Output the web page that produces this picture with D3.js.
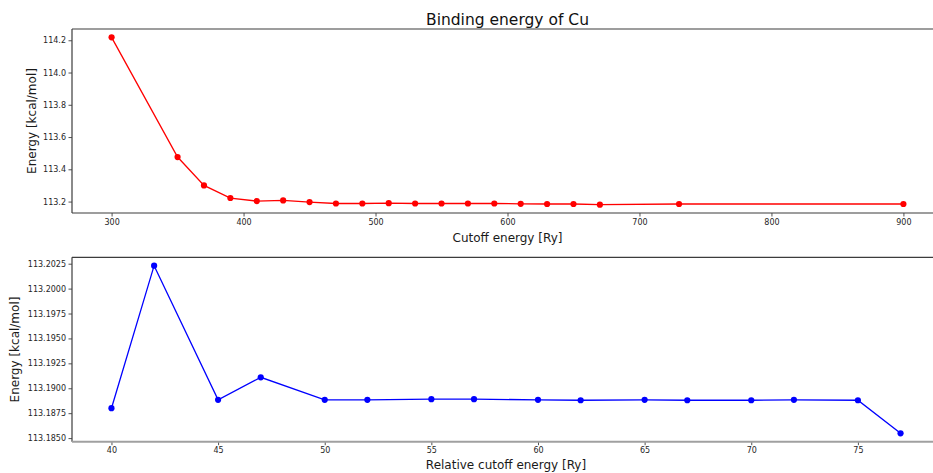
<!DOCTYPE html>
<html>
<head>
<meta charset="utf-8">
<script src="https://cdn.jsdelivr.net/npm/d3@7"></script>
<style>
  body { margin: 0; background: #fff; }
  svg { display: block; font-family: "DejaVu Sans", sans-serif; }
</style>
</head>
<body>
<svg id="chart" width="933" height="473"></svg>
<script>
// ---- data ----
const title = "Binding energy of Cu";
const cutoffX = [300, 350, 370, 390, 410, 430, 450, 470, 490, 510, 530, 550, 570, 590, 610, 630, 650, 670, 730, 900];
const cutoffEnergy = [114.218, 113.476, 113.300, 113.222, 113.203, 113.207, 113.197, 113.188, 113.188, 113.190, 113.188, 113.188, 113.188, 113.188, 113.186, 113.185, 113.185, 113.181, 113.185, 113.185];
const relX = [40, 42, 45, 47, 50, 52, 55, 57, 60, 62, 65, 67, 70, 72, 75, 77];
const relEnergy = [113.1880, 113.2023, 113.18884, 113.1911, 113.18884, 113.18884, 113.18891, 113.18891, 113.18884, 113.18880, 113.18884, 113.18880, 113.18880, 113.18884, 113.18880, 113.18548];
const topXTicks = [300, 400, 500, 600, 700, 800, 900];
const topYTicks = [113.2, 113.4, 113.6, 113.8, 114.0, 114.2];
const botXTicks = [40, 45, 50, 55, 60, 65, 70, 75];
const botYTicks = [113.1850, 113.1875, 113.1900, 113.1925, 113.1950, 113.1975, 113.2000, 113.2025];

const svg = d3.select("#chart");

function margin5(vals) {
  const [a, b] = d3.extent(vals);
  const m = (b - a) * 0.05;
  return [a - m, b + m];
}

function panel(opts) {
  const { xs, ys, left, right, top, bottom, xTicks, yTicks, yFmt, color, xLabel, yLabelX, xLabelY, bottomSpineColor } = opts;
  const x = d3.scaleLinear().domain(margin5(xs)).range([left, right]);
  const y = d3.scaleLinear().domain(margin5(ys)).range([bottom, top]);
  const g = svg.append("g");

  const xa = g.append("g").attr("transform", `translate(0,${bottom})`)
    .call(d3.axisBottom(x).tickValues(xTicks).tickFormat(d3.format("d")).tickSize(3.5).tickPadding(2.5));
  xa.select(".domain").remove();
  xa.selectAll("line").attr("stroke", "#262626").attr("stroke-width", 0.8);
  xa.selectAll("text").attr("font-size", "8px").attr("fill", "#262626").attr("font-family", "DejaVu Sans");

  const ya = g.append("g").attr("transform", `translate(${left},0)`)
    .call(d3.axisLeft(y).tickValues(yTicks).tickFormat(yFmt).tickSize(3.5).tickPadding(2.5));
  ya.select(".domain").remove();
  ya.selectAll("line").attr("stroke", "#262626").attr("stroke-width", 0.8);
  ya.selectAll("text").attr("font-size", "8px").attr("fill", "#262626").attr("font-family", "DejaVu Sans");

  g.append("line").attr("x1", left).attr("x2", right).attr("y1", top).attr("y2", top)
    .attr("stroke", "#3c3c3c").attr("stroke-width", 1.2);
  g.append("line").attr("x1", left).attr("x2", left).attr("y1", top).attr("y2", bottom)
    .attr("stroke", "#3c3c3c").attr("stroke-width", 1.2);
  g.append("line").attr("x1", left).attr("x2", right).attr("y1", bottom).attr("y2", bottom)
    .attr("stroke", bottomSpineColor).attr("stroke-width", bottomSpineColor === "#3c3c3c" ? 1.2 : 2);

  const pts = xs.map((v, i) => [v, ys[i]]);
  g.append("path").datum(pts)
    .attr("fill", "none").attr("stroke", color).attr("stroke-width", 1.3)
    .attr("d", d3.line().x(d => x(d[0])).y(d => y(d[1])));
  g.selectAll("circle.pt").data(pts).enter().append("circle")
    .attr("cx", d => x(d[0])).attr("cy", d => y(d[1])).attr("r", 3.1).attr("fill", color);

  g.append("text").attr("x", (left + right) / 2).attr("y", xLabelY)
    .attr("text-anchor", "middle").attr("font-size", "12px").attr("fill", "#1a1a1a").text(xLabel);
  g.append("text").attr("transform", `translate(${yLabelX},${(top + bottom) / 2}) rotate(-90)`)
    .attr("text-anchor", "middle").attr("font-size", "12px").attr("fill", "#1a1a1a").text("Energy [kcal/mol]");
}

svg.append("text").attr("x", (72 + 943) / 2).attr("y", 24.5).attr("text-anchor", "middle")
  .attr("font-size", "15.5px").attr("fill", "#111").text(title);

panel({ xs: cutoffX, ys: cutoffEnergy, left: 72, right: 943, top: 29, bottom: 213,
  xTicks: topXTicks, yTicks: topYTicks, yFmt: d3.format(".1f"), color: "#ff0000",
  xLabel: "Cutoff energy [Ry]", yLabelX: 35.5, xLabelY: 241.5, bottomSpineColor: "#3c3c3c" });

panel({ xs: relX, ys: relEnergy, left: 72, right: 940, top: 257.3, bottom: 441.7,
  xTicks: botXTicks, yTicks: botYTicks, yFmt: d3.format(".4f"), color: "#0000ff",
  xLabel: "Relative cutoff energy [Ry]", yLabelX: 19, xLabelY: 468.5, bottomSpineColor: "#a0a0a0" });
</script>
</body>
</html>
